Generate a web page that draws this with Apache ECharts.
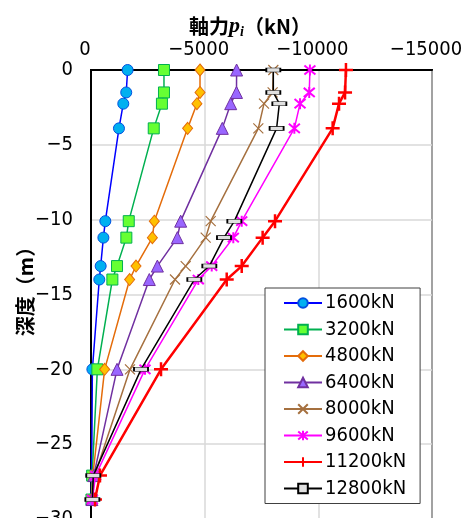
<!DOCTYPE html>
<html>
<head>
<meta charset="utf-8">
<script src="https://cdn.jsdelivr.net/npm/echarts@6/dist/echarts.min.js"></script>
<style>
html,body{margin:0;padding:0;background:#fff;}
#c{width:470px;height:518px;}
</style>
</head>
<body>
<div id="c"></div>
<script>
// Depth (m)
var depths = [0, -1.5, -2.25, -3.9, -10.1, -11.2, -13.1, -14, -20, -27.1, -28.7];
// Axial force (kN) per load level
var load1600  = [-1610, -1550, -1420, -1230, -630, -545, -425, -365, -60, -30, -10];
var load3200  = [-3210, -3210, -3120, -2760, -1660, -1555, -1145, -940, -280, -50, -20];
var load4800  = [-4795, -4795, -4660, -4250, -2785, -2700, -1980, -1700, -600, -80, -30];
var load6400  = [-6405, -6400, -6145, -5775, -3945, -3800, -2920, -2565, -1145, -120, -40];
var load8000  = [-8020, -7990, -7610, -7360, -5265, -5045, -4165, -3695, -1715, -160, -50];
var load9600  = [-9630, -9600, -9195, -8945, -6630, -6260, -5310, -4720, -2375, -200, -60];
var load11200 = [-11215, -11175, -10910, -10630, -8095, -7550, -6630, -5970, -3080, -395, -175];
var load12800 = [-8020, -8020, -8285, -8165, -6305, -5850, -5205, -4545, -2200, -100, -60];
var seriesNames = ['1600kN','3200kN','4800kN','6400kN','8000kN','9600kN','11200kN','12800kN'];
var xTicks = {min: -15000, max: 0, interval: 5000};
var yTicks = {min: -30, max: 0, interval: 5};

function pairs(vals){ return vals.map(function(v,i){ return [v, depths[i]]; }); }
var minus = function(v){ return String(v).replace('-', '\u2212'); };

var styles = [
  {data: load1600, line:'#0000FF', fill:'#00B0F0', border:'#0050E0', symbol:'circle', size:11, lw:1.5},
  {data: load3200, line:'#00B050', fill:'#66FF33', border:'#00B050', symbol:'rect', size:11, lw:1.5},
  {data: load4800, line:'#E46C0A', fill:'#FFC000', border:'#E46C0A', symbol:'diamond', size:[10,12], lw:1.5},
  {data: load6400, line:'#7030A0', fill:'#9966FF', border:'#7030A0', symbol:'triangle', size:12, lw:1.5},
  {data: load8000, line:'#A5703F', fill:'none', border:'#A5703F', symbol:'path://M0,0L10,10M10,0L0,10', size:10, lw:1.5, bw:1.2},
  {data: load9600, line:'#FF00FF', fill:'none', border:'#FF00FF', symbol:'path://M0,0L10,10M10,0L0,10M5,-1L5,11', size:11, lw:1.5, bw:2},
  {data: load11200, line:'#FF0000', fill:'none', border:'#FF0000', symbol:'path://M6,0L6,12M0,6L12,6', size:14, lw:2.5, bw:2.5},
  {data: load12800, line:'#000000', fill:'#E0E0E0', border:'#000000', symbol:'rect', size:[14,4], lw:1.5}
];

var series = styles.map(function(s, i){
  return {
    name: seriesNames[i],
    type: 'line',
    data: pairs(s.data),
    symbol: s.symbol,
    symbolSize: s.size,
    showSymbol: true,
    lineStyle: {color: s.line, width: s.lw},
    itemStyle: {color: s.fill, borderColor: s.border, borderWidth: s.bw || 1},
    z: 2 + i,
    animation: false
  };
});

var chart = echarts.init(document.getElementById('c'), null, {renderer:'canvas'});
chart.setOption({
  backgroundColor: '#fff',
  animation: false,
  title: {
    left: 245, top: 8, textAlign: 'center',
    text: '{b|軸力}{i|p}{s|i}{b|（kN）}',
    textStyle: {
      rich: {
        b: {fontFamily: 'Noto Sans CJK JP', fontWeight: 'bold', fontSize: 20, color: '#000'},
        i: {fontFamily: 'Liberation Serif', fontStyle: 'italic', fontWeight: 'bold', fontSize: 22, color: '#000'},
        s: {fontFamily: 'Liberation Serif', fontStyle: 'italic', fontWeight: 'bold', fontSize: 14, color: '#000', verticalAlign: 'bottom', padding: [12,0,0,0]}
      }
    }
  },
  grid: {left: 91, top: 70, width: 341, height: 449, show: true, borderColor: '#000', borderWidth: 2, backgroundColor: 'transparent', outerBoundsMode: 'none', containLabel: false},
  xAxis: {
    type: 'value', position: 'top', inverse: true,
    min: xTicks.min, max: xTicks.max, interval: xTicks.interval,
    axisLine: {show: true, lineStyle: {color: '#000', width: 2}},
    axisTick: {show: false},
    splitLine: {show: true, lineStyle: {color: '#D9D9D9', width: 1.5}},
    axisLabel: {color: '#000', fontSize: 20, fontFamily: 'Liberation Sans Narrow, DejaVu Sans Condensed, Liberation Sans', margin: 10, padding: [0, 12, 0, 0], formatter: minus}
  },
  yAxis: {
    type: 'value',
    min: yTicks.min, max: yTicks.max, interval: yTicks.interval,
    name: '深度（m）', nameLocation: 'middle', nameRotate: 90, nameGap: 56, nameMoveOverlap: false,
    nameTextStyle: {fontFamily: 'Noto Sans CJK JP', fontWeight: 'bold', fontSize: 20, color: '#000', padding: [0, 0, 0, 16]},
    axisLine: {show: true, lineStyle: {color: '#000', width: 2}},
    axisTick: {show: false},
    splitLine: {show: true, lineStyle: {color: '#D9D9D9', width: 1.5}},
    axisLabel: {color: '#000', fontSize: 20, fontFamily: 'Liberation Sans Narrow, DejaVu Sans Condensed, Liberation Sans', margin: 18, formatter: minus}
  },
  legend: {
    orient: 'vertical', left: 265, top: 288,
    data: seriesNames,
    backgroundColor: '#fff', borderColor: '#404040', borderWidth: 1,
    padding: [5, 14, 5, 18],
    itemWidth: 38, itemHeight: 12, itemGap: 6.5,
    textStyle: {fontSize: 20, color: '#000', fontFamily: 'Liberation Sans Narrow, DejaVu Sans Condensed, Liberation Sans', padding: [0,0,0,-2]}
  },
  series: series
});
</script>
</body>
</html>
